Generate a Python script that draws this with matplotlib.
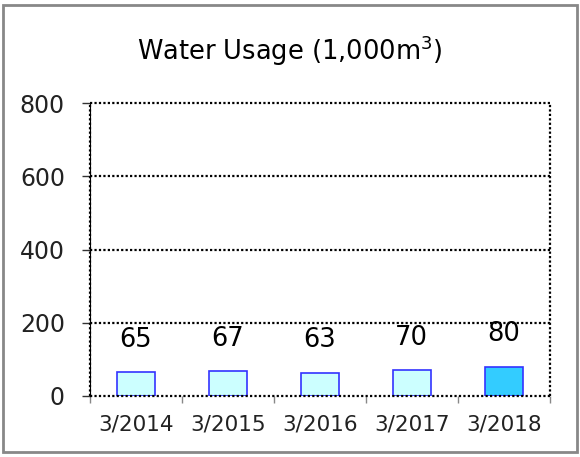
import matplotlib.pyplot as plt
from matplotlib.patches import Rectangle
import numpy as np

# Chart data
years = ['3/2014', '3/2015', '3/2016', '3/2017', '3/2018']
usage = [65, 67, 63, 70, 80]
bar_colors = ['#CCFFFF', '#CCFFFF', '#CCFFFF', '#CCFFFF', '#33CCFF']
y_ticks = [0, 200, 400, 600, 800]

fig = plt.figure(figsize=(5.8, 4.57), dpi=100)
ax = fig.add_axes([0.155, 0.1335, 0.793, 0.641])

x = np.arange(len(years))
ax.bar(x, usage, width=0.41, color=bar_colors, edgecolor='#3333FF', linewidth=1.2, zorder=3)

# Value labels
for xi, v in zip(x, usage):
    ax.annotate(str(v), (xi, v), xytext=(0, 14), textcoords='offset points',
                ha='center', va='bottom', fontsize=18.5, color='black')

ax.set_xlim(-0.5, len(years) - 0.5)
ax.set_ylim(0, 800)
ax.set_yticks(y_ticks)
ax.set_xticks(x)
ax.set_xticklabels(years)
ax.set_xticks(np.arange(-0.5, len(years), 1), minor=True)
ax.tick_params(axis='x', which='major', length=0, pad=13, labelsize=15.5, labelcolor='#222222')
ax.tick_params(axis='x', which='minor', length=5, color='#888888', width=1)
ax.tick_params(axis='y', length=6, width=1, pad=12, labelsize=17, color='#333333',
               labelcolor='#222222')

# Dotted grid and frame
dot = (0, (1, 1))
for s in ax.spines.values():
    s.set_visible(False)
for yv in y_ticks:
    ax.axhline(yv, color='black', linestyle=dot, linewidth=1.6, zorder=4, clip_on=False)
ax.axvline(-0.5, color='black', linewidth=0.8, zorder=4, clip_on=False)
ax.axvline(-0.5, color='black', linestyle=dot, linewidth=1.6, zorder=4, clip_on=False)
ax.axvline(len(years) - 0.5, color='black', linestyle=dot, linewidth=1.6, zorder=4, clip_on=False)

fig.text(0.5, 0.89, 'Water Usage (1,000m$^3$)', ha='center', va='center', fontsize=18.5)

# Outer border of the chart
fig.patches.append(Rectangle((0.006, 0.01), 0.988, 0.98, transform=fig.transFigure,
                             fill=False, edgecolor='#888888', linewidth=2))

fig.savefig('out.png', dpi=100)
